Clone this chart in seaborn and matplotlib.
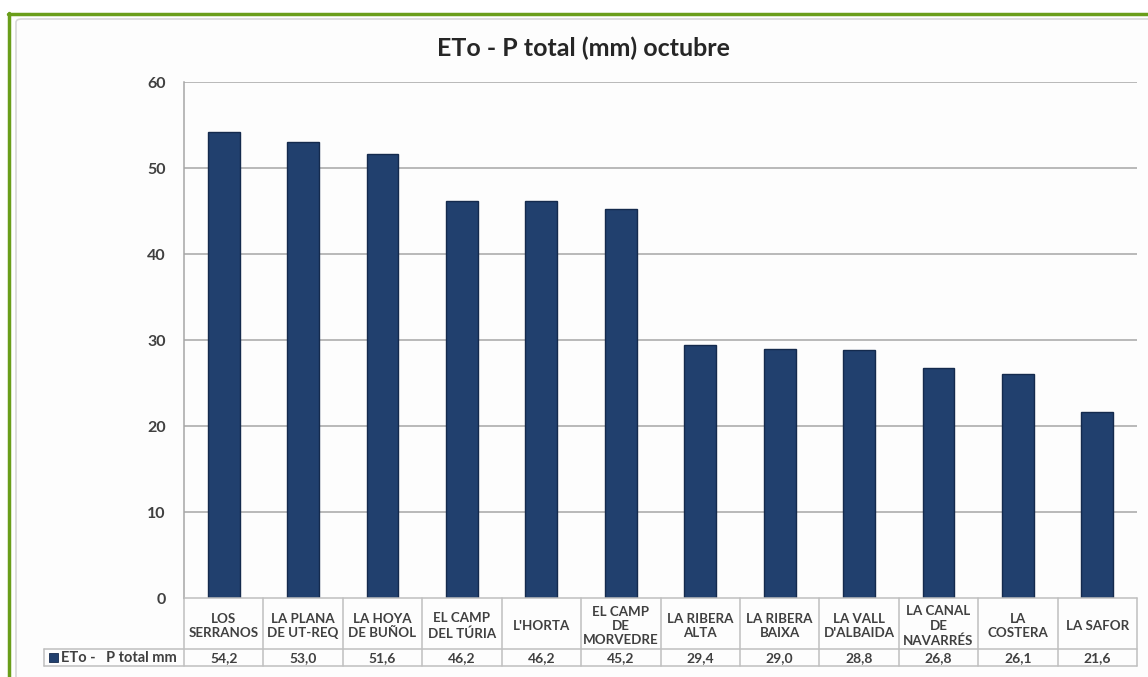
import matplotlib
matplotlib.use("Agg")
import matplotlib.pyplot as plt
import matplotlib.transforms as mtransforms
from matplotlib.lines import Line2D
from matplotlib.patches import Rectangle, FancyBboxPatch
import seaborn as sns
import pandas as pd

# ---- data ----
categories = ["LOS\nSERRANOS", "LA PLANA\nDE UT-REQ", "LA HOYA\nDE BUÑOL", "EL CAMP\nDEL TÚRIA",
              "L'HORTA", "EL CAMP\nDE\nMORVEDRE", "LA RIBERA\nALTA", "LA RIBERA\nBAIXA",
              "LA VALL\nD'ALBAIDA", "LA CANAL\nDE\nNAVARRÉS", "LA\nCOSTERA", "LA SAFOR"]
values = [54.2, 53.0, 51.6, 46.2, 46.2, 45.2, 29.4, 29.0, 28.8, 26.8, 26.1, 21.6]
value_labels = ["54,2", "53,0", "51,6", "46,2", "46,2", "45,2", "29,4", "29,0", "28,8", "26,8", "26,1", "21,6"]
series_name = "ETo -   P total mm"
title = "ETo - P total (mm) octubre"
yticks = [0, 10, 20, 30, 40, 50, 60]

sns.set_theme(style="white")
plt.rcParams['font.family'] = ['Lato', 'DejaVu Sans']

W, H = 1148, 677
fig = plt.figure(figsize=(W / 100, H / 100), dpi=100)
fig.patch.set_facecolor("white")

def fx(px):
    return px / W

def fy(py):
    return 1 - py / H

# outer green frame + inner light frame
fig.add_artist(FancyBboxPatch((fx(16), fy(700)), fx(1148), fy(19) - fy(700),
                              boxstyle="round,pad=0,rounding_size=0.005",
                              fc="#fdfdfd", ec="#d8d8d8", lw=1.2, zorder=-5))
fig.add_artist(Line2D([fx(8), fx(1148)], [fy(13.5), fy(13.5)], color="#6a9e1a", lw=2.5, zorder=-4))
fig.add_artist(Line2D([fx(8.5), fx(8.5)], [fy(13), fy(677)], color="#6a9e1a", lw=2.5, zorder=-4))

ax_left, ax_right, ax_top, ax_bot = 184, 1137, 82, 598
ax = fig.add_axes([fx(ax_left), fy(ax_bot), fx(ax_right - ax_left), fy(ax_top) - fy(ax_bot)])
ax.set_facecolor("none")

df = pd.DataFrame({"cat": categories, "val": values})
sns.barplot(data=df, x="cat", y="val", ax=ax, color="#21406e", width=0.40,
            edgecolor="#142a4d", linewidth=1.0, saturation=1)

ax.set_xlim(-0.5, len(categories) - 0.5)
ax.set_ylim(0, 60)
ax.set_yticks(yticks)
ax.set_yticklabels([str(t) for t in yticks], fontsize=11.5, fontweight="bold", color="#404040")
ax.tick_params(axis="y", length=0, pad=13)
ax.set_xticks([])
ax.set_xlabel("")
ax.set_ylabel("")
for t in yticks[1:]:
    ax.axhline(t, color="#a6a6a6", lw=1.1, zorder=0)
for s in ["top", "right", "bottom"]:
    ax.spines[s].set_visible(False)
ax.spines["left"].set_color("#a6a6a6")
ax.spines["left"].set_linewidth(1.1)

# title
fig.text(fx(583), fy(48), title, ha="center", va="center", fontsize=18, fontweight="bold", color="#262626")

# ---- data table under the axis ----
blend = mtransforms.blended_transform_factory(ax.transData, fig.transFigure)
grid_c = "#bfbfbf"
row_top, row_mid, row_bot = 598, 649, 666
n = len(categories)
fig.add_artist(Line2D([fx(ax_left), fx(ax_right)], [fy(row_top), fy(row_top)], color=grid_c, lw=1.1))
fig.add_artist(Line2D([fx(44), fx(ax_right)], [fy(row_mid), fy(row_mid)], color=grid_c, lw=1.1))
fig.add_artist(Line2D([fx(44), fx(ax_right)], [fy(row_bot), fy(row_bot)], color=grid_c, lw=1.1))
fig.add_artist(Line2D([fx(44), fx(44)], [fy(row_mid), fy(row_bot)], color=grid_c, lw=1.1))
for i in range(n + 1):
    x = i - 0.5
    ax.add_artist(Line2D([x, x], [fy(row_top), fy(row_bot)], color=grid_c, lw=1.1,
                         transform=blend, clip_on=False))
for i, (c, v) in enumerate(zip(categories, value_labels)):
    ax.text(i, fy((row_top + row_mid) / 2 + 2.5), c, transform=blend, ha="center", va="center",
            fontsize=9.6, fontweight="bold", color="#404040", linespacing=1.25, clip_on=False)
    ax.text(i, fy((row_mid + row_bot) / 2 + 0.5), v, transform=blend, ha="center", va="center",
            fontsize=10, fontweight="bold", color="#404040", clip_on=False)

fig.add_artist(Rectangle((fx(49), fy(662)), fx(9), fy(653) - fy(662), fc="#21406e", ec="#142a4d", lw=0.6))
fig.text(fx(61), fy(657.5), series_name, ha="left", va="center", fontsize=10.5, fontweight="bold", color="#404040")

fig.savefig("out.png", dpi=100)
